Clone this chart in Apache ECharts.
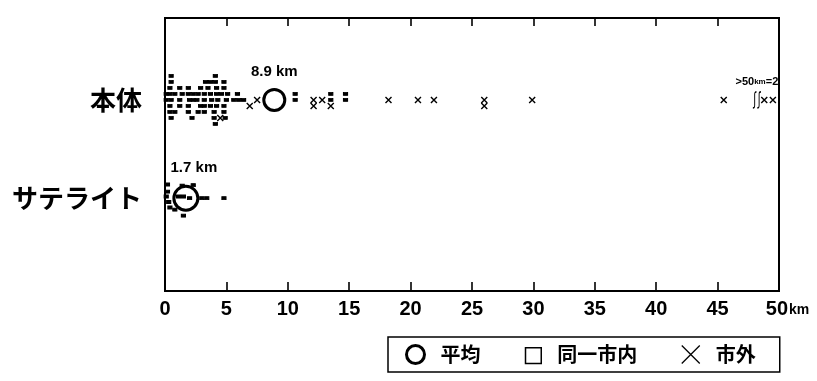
<!DOCTYPE html>
<html>
<head>
<meta charset="utf-8">
<script src="https://cdn.jsdelivr.net/npm/echarts@6/dist/echarts.min.js"></script>
<style>html,body{margin:0;padding:0;background:#fff;}#c{width:817px;height:381px;}</style>
</head>
<body>
<div id="c"></div>
<script>
// ---- data (distance km, stacking row) ----
const groups = ['本体', 'サテライト'];
const groupCenter = [70, 34];      // position of each group on hidden value axis
const groupStep = [-2.2, -2];      // vertical spacing of stacked marks (row +1 = lower)
const xTicks = [0, 5, 10, 15, 20, 25, 30, 35, 40, 45, 50];
const means = [8.9, 1.7];
const over50Count = 2;
const breakAt = 48.2;
const beyond50 = [48.8, 49.5];

// 本体: 同一市内
const honSame = [
  [0.5,-4],[4.1,-4],
  [0.5,-3],[3.3,-3],[3.7,-3],[4.1,-3],[4.8,-3],
  [0.4,-2],[1.2,-2],[1.9,-2],[2.9,-2],[3.5,-2],[4.2,-2],[4.8,-2],
  [0.1,-1],[0.4,-1],[0.8,-1],[1.4,-1],[1.9,-1],[2.3,-1],[2.7,-1],[3.2,-1],[3.7,-1],[4.2,-1],[4.6,-1],[5.1,-1],[5.9,-1],[10.6,-1],[13.5,-1],[14.7,-1],
  [0.1,0],[0.5,0],[1.2,0],[2.0,0],[2.3,0],[2.6,0],[3.2,0],[3.8,0],[4.3,0],[5.0,0],[5.6,0],[6.0,0],[6.4,0],[10.6,0],[13.5,0],[14.7,0],
  [0.4,1],[1.2,1],[1.9,1],[2.9,1],[3.2,1],[3.7,1],[4.2,1],[4.8,1],
  [0.4,2],[0.8,2],[1.9,2],[2.7,2],[3.2,2],[4.0,2],[4.8,2],
  [0.5,3],[2.2,3],[4.0,3],[4.9,3],
  [4.1,4]
];
// 本体: 市外
const honOut = [
  [4.5,3],[6.9,1],[7.5,0],[12.1,0],[12.1,1],[12.8,0],[13.5,1],
  [18.2,0],[20.6,0],[21.9,0],[26.0,0],[26.0,1],[29.9,0],[45.5,0]
];
// サテライト: 同一市内
const satSame = [
  [0.2,-2.5],[0.2,-1.2],[0.1,-0.3],[0.3,0.7],[0.4,1.7],[0.8,2.1],[1.5,3.2],
  [1.4,-2.3],[2.3,-2.4],[1.1,-0.3],[1.5,-0.3],[2.0,0],[3.0,0],[3.4,0],[4.8,0]
];
// サテライト: 市外
const satOut = [];

// ---- build ----
const toPts = (arr, g) => arr.map(d => [d[0], groupCenter[g] + d[1] * groupStep[g]]);
const sameData = toPts(honSame, 0).concat(toPts(satSame, 1));
const outData = toPts(honOut, 0).concat(toPts(satOut, 1)).concat(beyond50.map(v => [v, groupCenter[0]]));

const NUM = '"Liberation Sans Narrow","Arial Narrow","Liberation Sans",sans-serif';
const CJK = '"Noto Sans CJK JP","Noto Sans CJK SC",sans-serif';
const X_PATH = 'path://M0,0L10,10M10,0L0,10';
const BREAK_PATH = 'path://M5,0C3,0 3,2 3,4L3,20C3,22 3,24 1,24M10,0C8,0 8,2 8,4L8,20C8,22 8,24 6,24';

const chart = echarts.init(document.getElementById('c'), null, {renderer: 'canvas'});
chart.setOption({
  animation: false,
  backgroundColor: '#fff',
  grid: {left: 165, right: 38, top: 18, bottom: 90, show: true, borderColor: '#000', borderWidth: 2},
  xAxis: [{
    type: 'value', min: 0, max: 50, interval: 5, position: 'bottom',
    axisLine: {show: true, onZero: false, lineStyle: {color: '#000', width: 2}},
    axisTick: {show: true, inside: true, length: 9, lineStyle: {color: '#000', width: 1.6}},
    splitLine: {show: false},
    axisLabel: {
      margin: 8, color: '#000', fontFamily: NUM, fontWeight: 'bold', fontSize: 20,
      formatter: v => v === 50 ? '{p|}{n|50}{u|km}' : String(v),
      rich: {
        p: {width: 17},
        n: {fontFamily: NUM, fontWeight: 'bold', fontSize: 20, color: '#000'},
        u: {fontFamily: NUM, fontWeight: 'bold', fontSize: 14, color: '#000', padding: [3, 0, 0, 1]}
      }
    }
  }, {
    type: 'value', min: 0, max: 50, interval: 5, position: 'top',
    axisLine: {show: true, onZero: false, lineStyle: {color: '#000', width: 2}},
    axisTick: {show: true, inside: true, length: 8, lineStyle: {color: '#000', width: 1.6}},
    axisLabel: {show: false}, splitLine: {show: false}
  }],
  yAxis: {
    type: 'value', min: 0, max: 100,
    axisLine: {show: false, onZero: false}, axisTick: {show: false}, splitLine: {show: false},
    axisLabel: {
      customValues: groupCenter, margin: 23, color: '#000',
      fontFamily: CJK, fontWeight: 'bold', fontSize: 26,
      formatter: v => groups[groupCenter.indexOf(v)] || ''
    }
  },
  legend: {
    left: 388, top: 337, orient: 'horizontal', selectedMode: false,
    borderColor: '#000', borderWidth: 1.5, padding: [6, 24, 6, 17],
    itemWidth: 18, itemHeight: 18, itemGap: 42,
    textStyle: {color: '#000', fontFamily: CJK, fontWeight: 'bold', fontSize: 20, padding: [0, 0, 0, 11]},
    data: [
      {name: '平均', icon: 'circle', itemStyle: {color: '#fff', borderColor: '#000', borderWidth: 3, opacity: 1}},
      {name: '同一市内', icon: 'path://M0,0M2,2L16,2L16,16L2,16Z', itemStyle: {color: '#fff', borderColor: '#000', borderWidth: 1.5, opacity: 1}},
      {name: '市外', icon: 'path://M0,0L17,17M17,0L0,17', itemStyle: {color: 'none', borderColor: '#000', borderWidth: 1.3, opacity: 1}}
    ]
  },
  series: [
    {
      name: '同一市内', type: 'scatter', data: sameData, symbol: 'rect', symbolSize: [4, 3],
      itemStyle: {color: '#000', borderColor: '#000', borderWidth: 1, opacity: 1}, z: 3
    },
    {
      name: '市外', type: 'scatter', data: outData, symbol: X_PATH, symbolSize: 6,
      itemStyle: {color: 'none', borderColor: '#000', borderWidth: 1.4, opacity: 1}, z: 3
    },
    {
      name: '平均', type: 'scatter', symbol: 'circle',
      data: [
        {value: [means[0], groupCenter[0]], symbolSize: 21},
        {value: [means[1], groupCenter[1]], symbolSize: 24, label: {offset: [8, 0]}}
      ],
      itemStyle: {color: 'rgba(0,0,0,0)', borderColor: '#000', borderWidth: 3, opacity: 1}, z: 4,
      label: {
        show: true, position: 'top', distance: 9, color: '#000',
        fontFamily: NUM, fontWeight: 'bold', fontSize: 15,
        formatter: p => p.value[0].toFixed(1) + ' km'
      }
    },
    {
      name: 'break', type: 'scatter', symbol: BREAK_PATH, symbolSize: [8, 16],
      data: [[breakAt, groupCenter[0]]],
      itemStyle: {color: 'none', borderColor: '#000', borderWidth: 1.3, opacity: 1}, z: 4,
      label: {
        show: true, position: 'top', distance: 1, offset: [0, 0], color: '#000',
        fontFamily: NUM, fontWeight: 'bold', fontSize: 11,
        formatter: () => '>50{u|km}=' + over50Count,
        rich: {u: {fontFamily: NUM, fontWeight: 'bold', fontSize: 8, color: '#000'}}
      }
    }
  ]
});
</script>
</body>
</html>
